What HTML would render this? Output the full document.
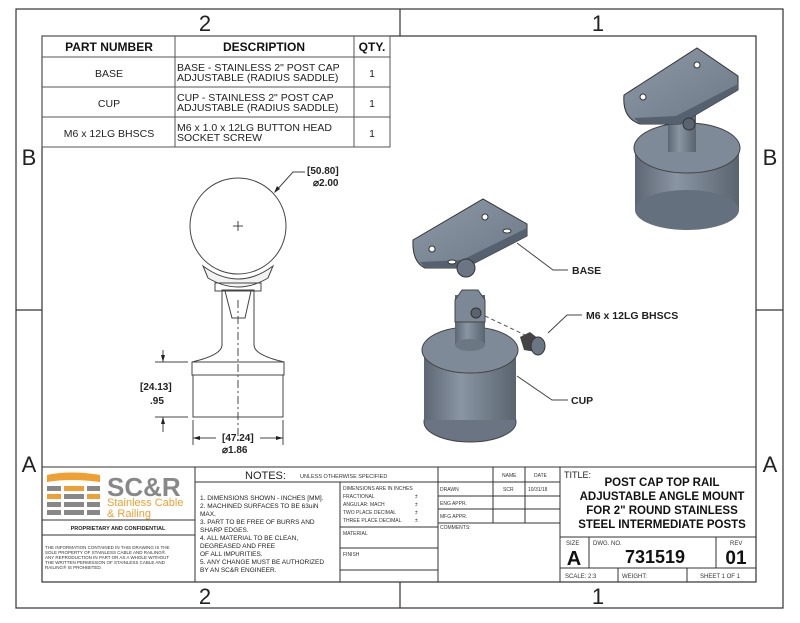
<!DOCTYPE html>
<html><head><style>
body{margin:0;background:#fff;}
svg text{font-family:"Liberation Sans",sans-serif;}
</style></head><body>
<svg width="800" height="618" viewBox="0 0 800 618" xmlns="http://www.w3.org/2000/svg">
<defs>
<linearGradient id="mg" x1="0" x2="1"><stop offset="0" stop-color="#5d6774"/><stop offset="0.4" stop-color="#8a95a3"/><stop offset="1" stop-color="#5a6470"/></linearGradient>
<linearGradient id="tg" x1="0" y1="0" x2="1" y2="1"><stop offset="0" stop-color="#8e99a7"/><stop offset="1" stop-color="#6d7886"/></linearGradient>
</defs>
<g fill="none" stroke="#333" stroke-width="1.2">
<rect x="16" y="9" width="767" height="599"/>
<rect x="42" y="36" width="714" height="546"/>
<line x1="400" y1="9" x2="400" y2="36"/><line x1="400" y1="582" x2="400" y2="608"/>
<line x1="16" y1="310" x2="42" y2="310"/><line x1="756" y1="310" x2="783" y2="310"/>
</g>
<g font-size="22" fill="#222" text-anchor="middle">
<text x="205" y="31">2</text><text x="598" y="31">1</text>
<text x="205" y="604">2</text><text x="598" y="604">1</text>
<text x="29" y="165">B</text><text x="770" y="165">B</text>
<text x="29" y="472">A</text><text x="770" y="472">A</text>
</g>
<!-- BOM table -->
<g fill="none" stroke="#555" stroke-width="1">
<rect x="42" y="36" width="348" height="111"/>
<line x1="42" y1="57" x2="390" y2="57"/><line x1="42" y1="87" x2="390" y2="87"/><line x1="42" y1="117" x2="390" y2="117"/>
<line x1="175" y1="36" x2="175" y2="147"/><line x1="354" y1="36" x2="354" y2="147"/>
</g>
<g font-size="12" font-weight="bold" text-anchor="middle" fill="#111">
<text x="109" y="51">PART NUMBER</text><text x="264" y="51">DESCRIPTION</text><text x="372" y="51">QTY.</text>
</g>
<g font-size="10.5" fill="#222">
<text x="109" y="77" text-anchor="middle">BASE</text>
<text x="109" y="107" text-anchor="middle">CUP</text>
<text x="109" y="137" text-anchor="middle">M6 x 12LG BHSCS</text>
<text x="177" y="71">BASE - STAINLESS 2" POST CAP</text><text x="177" y="81">ADJUSTABLE (RADIUS SADDLE)</text>
<text x="177" y="101">CUP - STAINLESS 2" POST CAP</text><text x="177" y="111">ADJUSTABLE (RADIUS SADDLE)</text>
<text x="177" y="131">M6 x 1.0 x 12LG BUTTON HEAD</text><text x="177" y="141">SOCKET SCREW</text>
<text x="372" y="77" text-anchor="middle">1</text><text x="372" y="107" text-anchor="middle">1</text><text x="372" y="137" text-anchor="middle">1</text>
</g>
<!-- front view -->
<g fill="none" stroke="#444" stroke-width="1">
<circle cx="238" cy="226" r="48"/>
<line x1="233" y1="226" x2="243" y2="226"/><line x1="238" y1="221" x2="238" y2="231"/>
<path d="M203 266 Q238 292 273 266 L268 278 Q238 296 208 278 Z" fill="#f2f2f2"/>
<path d="M222 290 L222 345 Q222 355 192 362 L192 375 L284 375 L284 362 Q254 355 254 345 L254 290 Z"/>
<rect x="215" y="283" width="46" height="8"/>
<path d="M225 291 L232 318 L245 318 L251 291"/>
<line x1="192" y1="362" x2="284" y2="362"/>
<rect x="193" y="375" width="90" height="42"/>
<line x1="238" y1="300" x2="238" y2="440" stroke-dasharray="8,3,2,3"/>
<line x1="155" y1="362" x2="188" y2="362"/><line x1="155" y1="417" x2="188" y2="417"/>
<line x1="163" y1="350" x2="163" y2="362"/><line x1="163" y1="417" x2="163" y2="432"/>
<line x1="193" y1="420" x2="193" y2="445"/><line x1="283" y1="420" x2="283" y2="445"/>
<line x1="193" y1="438" x2="216" y2="438"/><line x1="260" y1="438" x2="283" y2="438"/>
<polyline points="275,192 293,172 305,172"/>
</g>
<g fill="#222">
<path d="M163 362 l-2 -7 l4 0z"/><path d="M163 417 l-2 7 l4 0z"/>
<path d="M193 438 l7 -2 l0 4z"/><path d="M283 438 l-7 -2 l0 4z"/>
<path d="M274 193 l3 -7 l3 3z"/>
</g>
<g font-size="10" font-weight="bold" fill="#222">
<text x="140" y="390">[24.13]</text><text x="150" y="404">.95</text>
<text x="222" y="441">[47.24]</text><text x="222" y="453">⌀1.86</text>
<text x="307" y="174">[50.80]</text><text x="313" y="186">⌀2.00</text>
</g>
<!-- exploded base -->
<path d="M413 240 Q412 262 425 268 L465 268 L527 236 L527 224 L483 199 Z" fill="url(#tg)" stroke="#333"/>
<path d="M425 268 L465 268 L527 236 L527 228 L462 260 L420 262 Z" fill="#566170"/>
<ellipse cx="466" cy="268" rx="9" ry="9" fill="#6b7684" stroke="#333"/>
<circle cx="432" cy="249" r="3" fill="#fff" stroke="#333"/><circle cx="485" cy="217" r="3" fill="#fff" stroke="#333"/>
<ellipse cx="452" cy="262" rx="4" ry="2" fill="#fff" stroke="#333"/><ellipse cx="507" cy="231" rx="4" ry="2" fill="#fff" stroke="#333"/>
<!-- cup -->
<rect x="424" y="350" width="92" height="72" fill="url(#mg)"/>
<ellipse cx="470" cy="422" rx="46" ry="20" fill="#6a7482" stroke="#444"/>
<rect x="424" y="350" width="92" height="70" fill="url(#mg)"/>
<ellipse cx="470" cy="350" rx="48" ry="23" fill="#7f8a98" stroke="#444"/>
<rect x="455" y="295" width="30" height="50" fill="url(#mg)"/>
<ellipse cx="470" cy="345" rx="15" ry="6" fill="#6c7784"/>
<path d="M455 300 L462 290 L478 290 L485 300 L485 322 L455 322 Z" fill="#7d8896" stroke="#444"/>
<circle cx="476" cy="313" r="5" fill="#5a6470" stroke="#333"/>
<line x1="485" y1="316" x2="525" y2="335" stroke="#555" stroke-dasharray="4,3"/>
<!-- screw -->
<path d="M520 337 L530 332 L540 340 L536 352 L524 350 Z" fill="#444"/>
<ellipse cx="538" cy="346" rx="7" ry="9" fill="#6b7684" stroke="#333"/>
<!-- top-right assembly -->
<rect x="635" y="150" width="104" height="60" fill="url(#mg)"/>
<ellipse cx="687" cy="210" rx="52" ry="20" fill="#65707e"/>
<ellipse cx="687" cy="148" rx="53" ry="25" fill="#7f8a98" stroke="#444"/>
<rect x="668" y="112" width="28" height="40" fill="url(#mg)"/>
<path d="M624 95 Q622 118 640 124 L680 124 L738 90 L738 76 L697 48 Z" fill="url(#tg)" stroke="#333"/>
<path d="M640 124 L680 124 L738 90 L738 84 L676 116 L634 118 Z" fill="#566170"/>
<circle cx="689" cy="124" r="6" fill="#5a6470" stroke="#333"/>
<circle cx="643" cy="97" r="3" fill="#fff" stroke="#333"/><circle cx="697" cy="65" r="3" fill="#fff" stroke="#333"/>
<!-- leaders -->
<g fill="none" stroke="#444" stroke-width="1">
<polyline points="517,243 553,270 568,270"/>
<polyline points="548,333 567,315 582,315"/>
<polyline points="517,376 552,400 568,400"/>
</g>
<g font-size="10.5" font-weight="bold" fill="#222">
<text x="572" y="274">BASE</text><text x="586" y="319">M6 x 12LG BHSCS</text><text x="571" y="404">CUP</text>
</g>
<!-- title block -->
<g fill="none" stroke="#333" stroke-width="1">
<rect x="42" y="467" width="714" height="115"/>
<line x1="195" y1="467" x2="195" y2="582"/>
<line x1="42" y1="520" x2="195" y2="520"/><line x1="42" y1="535" x2="195" y2="535"/>
<line x1="195" y1="482" x2="560" y2="482"/>
<line x1="340" y1="482" x2="340" y2="582"/><line x1="438" y1="467" x2="438" y2="582"/>
<line x1="340" y1="527" x2="438" y2="527"/><line x1="340" y1="548" x2="438" y2="548"/><line x1="340" y1="570" x2="438" y2="570"/>
<line x1="493" y1="467" x2="493" y2="523"/><line x1="525" y1="467" x2="525" y2="523"/>
<line x1="438" y1="496" x2="560" y2="496"/><line x1="438" y1="509" x2="560" y2="509"/><line x1="438" y1="523" x2="560" y2="523"/>
<line x1="560" y1="467" x2="560" y2="582"/>
<line x1="560" y1="537" x2="756" y2="537"/><line x1="560" y1="568" x2="756" y2="568"/>
<line x1="589" y1="537" x2="589" y2="568"/><line x1="716" y1="537" x2="716" y2="568"/>
<line x1="618" y1="568" x2="618" y2="582"/><line x1="687" y1="568" x2="687" y2="582"/>
</g>
<!-- logo -->
<g>
<path d="M47 475 Q70 470 100 475 L100 482 Q70 478 47 482 Z" fill="#f0a030"/>
<rect x="47" y="486" width="14" height="5" fill="#888"/><rect x="64" y="486" width="20" height="5" fill="#f0a030"/><rect x="87" y="486" width="13" height="5" fill="#888"/>
<rect x="47" y="494" width="14" height="5" fill="#f0a030"/><rect x="64" y="494" width="20" height="5" fill="#888"/><rect x="87" y="494" width="13" height="5" fill="#f0a030"/>
<rect x="47" y="502" width="14" height="5" fill="#888"/><rect x="64" y="502" width="20" height="5" fill="#888"/><rect x="87" y="502" width="13" height="5" fill="#888"/>
<rect x="47" y="510" width="14" height="5" fill="#888"/><rect x="64" y="510" width="20" height="5" fill="#888"/><rect x="87" y="510" width="13" height="5" fill="#888"/>
<text x="107" y="496" font-size="26" font-weight="bold" fill="#888">SC&amp;R</text>
<text x="107" y="506" font-size="11" fill="#f0a030">Stainless Cable</text>
<text x="107" y="517" font-size="11" fill="#f0a030">&amp; Railing</text>
</g>
<text x="118" y="530" font-size="5.5" font-weight="bold" text-anchor="middle" fill="#222">PROPRIETARY AND CONFIDENTIAL</text>
<g font-size="4.5" fill="#333">
<text x="45" y="549">THE INFORMATION CONTAINED IN THIS DRAWING IS THE</text>
<text x="45" y="554">SOLE PROPERTY OF STAINLESS CABLE AND RAILING®.</text>
<text x="45" y="559">ANY REPRODUCTION IN PART OR AS A WHOLE WITHOUT</text>
<text x="45" y="564">THE WRITTEN PERMISSION OF STAINLESS CABLE AND</text>
<text x="45" y="569">RAILING® IS PROHIBITED.</text>
</g>
<text x="245" y="479" font-size="11" fill="#222">NOTES:</text>
<text x="300" y="478" font-size="5.5" fill="#333">UNLESS OTHERWISE SPECIFIED</text>
<g font-size="6.5" fill="#222">
<text x="200" y="500">1. DIMENSIONS SHOWN - INCHES [MM].</text>
<text x="200" y="508">2. MACHINED SURFACES TO BE 63uiN</text>
<text x="200" y="516">MAX.</text>
<text x="200" y="524">3. PART TO BE FREE OF BURRS AND</text>
<text x="200" y="532">SHARP EDGES.</text>
<text x="200" y="540">4. ALL MATERIAL TO BE CLEAN,</text>
<text x="200" y="548">DEGREASED AND FREE</text>
<text x="200" y="556">OF ALL IMPURITIES.</text>
<text x="200" y="564">5. ANY CHANGE MUST BE AUTHORIZED</text>
<text x="200" y="572">BY AN SC&amp;R ENGINEER.</text>
</g>
<g font-size="5" fill="#333">
<text x="343" y="490">DIMENSIONS ARE IN INCHES</text>
<text x="343" y="498">FRACTIONAL</text><text x="415" y="498">±</text>
<text x="343" y="506">ANGULAR: MACH</text><text x="415" y="506">±</text>
<text x="343" y="514">TWO PLACE DECIMAL</text><text x="415" y="514">±</text>
<text x="343" y="522">THREE PLACE DECIMAL</text><text x="415" y="522">±</text>
<text x="343" y="535">MATERIAL</text><text x="343" y="556">FINISH</text>
<text x="502" y="477">NAME</text><text x="534" y="477">DATE</text>
<text x="440" y="491">DRAWN</text><text x="503" y="491">SCR</text><text x="528" y="491">10/31/18</text>
<text x="440" y="505">ENG APPR.</text><text x="440" y="518">MFG APPR.</text><text x="440" y="529">COMMENTS:</text>
</g>
<text x="564" y="478" font-size="9" fill="#222">TITLE:</text>
<g font-size="11.5" font-weight="bold" text-anchor="middle" fill="#111">
<text x="662" y="486">POST CAP TOP RAIL</text>
<text x="662" y="500">ADJUSTABLE ANGLE MOUNT</text>
<text x="662" y="514">FOR 2" ROUND STAINLESS</text>
<text x="662" y="528">STEEL INTERMEDIATE POSTS</text>
</g>
<g font-size="6" fill="#333">
<text x="566" y="545">SIZE</text><text x="593" y="545">DWG.  NO.</text><text x="730" y="545">REV</text>
<text x="565" y="578">SCALE: 2:3</text><text x="622" y="578">WEIGHT:</text><text x="700" y="578">SHEET 1 OF 1</text>
</g>
<text x="574" y="565" font-size="20" font-weight="bold" text-anchor="middle" fill="#111">A</text>
<text x="655" y="563" font-size="18" font-weight="bold" text-anchor="middle" fill="#111">731519</text>
<text x="736" y="564" font-size="19" font-weight="bold" text-anchor="middle" fill="#111">01</text>
</svg>
</body></html>
